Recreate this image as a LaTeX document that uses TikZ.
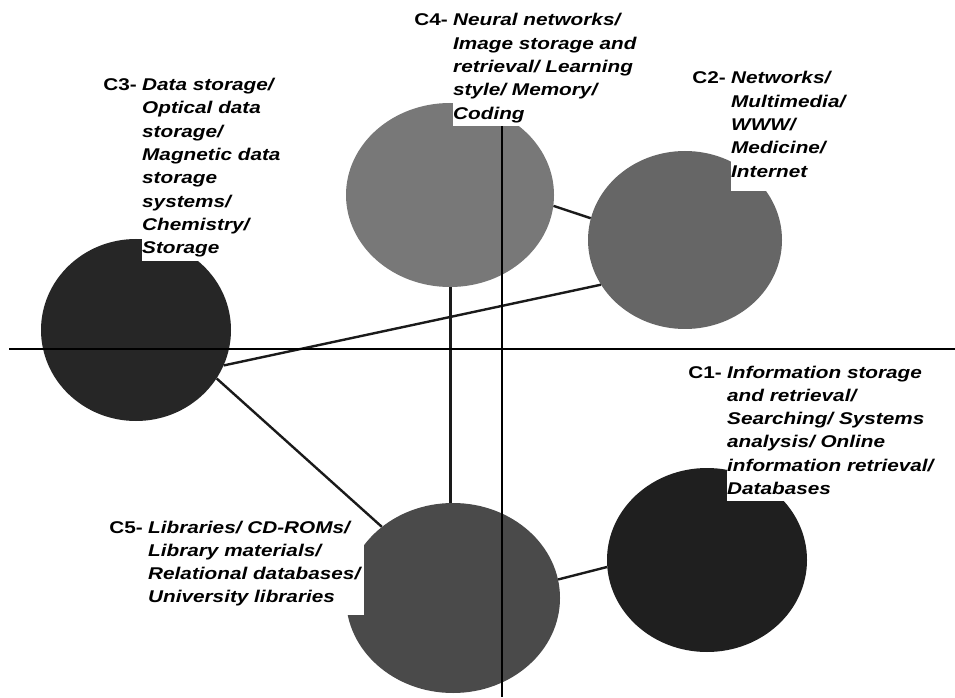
\documentclass[tikz,border=0pt]{standalone}
\usepackage{fontspec}
\usetikzlibrary{shapes.geometric}
\newfontfamily\lab[FakeStretch=1.22]{Liberation Sans}
\definecolor{cthree}{HTML}{262626}
\definecolor{cfour}{HTML}{787878}
\definecolor{ctwo}{HTML}{666666}
\definecolor{cfive}{HTML}{4A4A4A}
\definecolor{cone}{HTML}{1F1F1F}
\definecolor{lnk}{HTML}{1A1A1A}
\tikzset{
  blob/.style={ellipse, inner sep=0pt, draw=none},
  desc/.style={anchor=base west, inner sep=0pt, fill=white,
    font=\lab\bfseries\itshape\fontsize{17}{23.3}\selectfont},
  cid/.style={anchor=base east, inner sep=0pt,
    font=\lab\bfseries\fontsize{17}{23.3}\selectfont},
  link/.style={draw=lnk, line width=2.4pt},
  axis/.style={draw=black, line width=1.3pt}
}
\begin{document}
\begin{tikzpicture}[x=1pt,y=1pt]
\useasboundingbox (0,0) rectangle (955,697);
% clusters
\node[blob, fill=cthree, minimum width=190pt, minimum height=182pt] (c3) at (136,367) {};
\node[blob, fill=cfour,  minimum width=208pt, minimum height=184pt] (c4) at (450,502) {};
\node[blob, fill=ctwo,   minimum width=194pt, minimum height=178pt] (c2) at (685,457) {};
\node[blob, fill=cfive,  minimum width=214pt, minimum height=190pt] (c5) at (453,99) {};
\node[blob, fill=cone,   minimum width=200pt, minimum height=184pt] (c1) at (707,137) {};
% connectors
\draw[link] (c3.-22) -- (c2.-152);
\draw[link] (c3.-31) -- (c5.135);
\draw[link] (c4.-6) -- (c2.167);
\draw[link, line width=3pt] (c4.south) -- (c4.south |- c5.north);
\draw[link] (c5.10) -- (c1.184);
% axes
\coordinate (hl) at (9,348);
\coordinate (hr) at (955,348);
\coordinate (vb) at (502,0);
\coordinate (vt) at (502,575);
\draw[axis] (hl) -- (hr);
\draw[axis] (vt) -- (vb);
% labels
\node[desc] (c3t) at (142,606.3) {\begin{tabular}[t]{@{}l@{}}Data storage/\\Optical data\\storage/\\Magnetic data\\storage\\systems/\\Chemistry/\\Storage\end{tabular}};
\node[cid] (c3l) at ([xshift=-5pt]c3t.base west) {C3-};
\node[desc] (c4t) at (453,671) {\begin{tabular}[t]{@{}l@{}}Neural networks/\\Image storage and\\retrieval/ Learning\\style/ Memory/\\Coding\end{tabular}};
\node[cid] (c4l) at ([xshift=-5pt]c4t.base west) {C4-};
\node[desc] (c2t) at (731,613) {\begin{tabular}[t]{@{}l@{}}Networks/\\Multimedia/\\WWW/\\Medicine/\\Internet\rule[-14pt]{0pt}{0pt}\end{tabular}};
\node[cid] (c2l) at ([xshift=-5pt]c2t.base west) {C2-};
\node[desc] (c1t) at (727,319) {\begin{tabular}[t]{@{}l@{}}Information storage\\and retrieval/\\Searching/ Systems\\analysis/ Online\\information retrieval/\\Databases\end{tabular}};
\node[cid] (c1l) at ([xshift=-5pt]c1t.base west) {C1-};
\node[desc] (c5t) at (148,164) {\begin{tabular}[t]{@{}l@{\hspace{4pt}}}Libraries/ CD-ROMs/\\Library materials/\\Relational databases/\\University libraries\rule[-12pt]{0pt}{0pt}\end{tabular}};
\node[cid] (c5l) at ([xshift=-5pt]c5t.base west) {C5-};
\end{tikzpicture}
\end{document}
